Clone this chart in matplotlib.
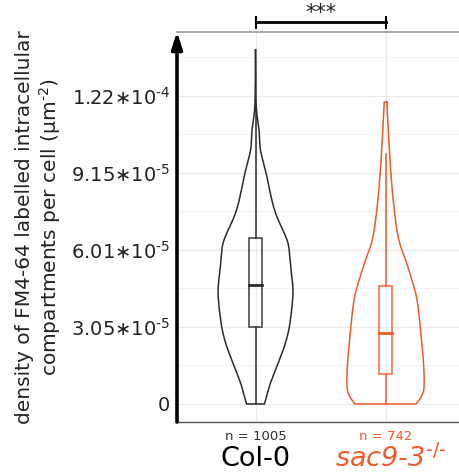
import numpy as np
import matplotlib
matplotlib.use("Agg")
import matplotlib.pyplot as plt

# groups
groups = ["Col-0", "sac9-3"]
counts = [1005, 742]
colors = ["#2b2b2b", "#F05A28"]

# violin outlines: density value (x1e-5) and half width (category units)
col0_y = [14.02, 11.84, 10.85, 10.06, 9.15, 7.68, 6.50, 5.90, 5.31, 4.40, 3.21, 2.50, 1.86, 0.83, 0.0]
col0_w = [0.0, 0.005, 0.027, 0.038, 0.081, 0.146, 0.242, 0.262, 0.273, 0.288, 0.265, 0.235, 0.192, 0.115, 0.069]
sac9_y = [11.96, 10.85, 9.15, 7.68, 6.50, 5.58, 4.63, 4.00, 2.93, 1.62, 0.67, 0.28, 0.0]
sac9_w = [0.010, 0.021, 0.041, 0.067, 0.102, 0.162, 0.219, 0.246, 0.269, 0.292, 0.296, 0.273, 0.235]

# box stats (x1e-5): whisker low, Q1, median, Q3, whisker high
col0_box = [0.0, 3.05, 4.71, 6.58, 11.84]
sac9_box = [0.0, 1.18, 2.80, 4.67, 9.90]

tick_vals = [0, 3.05, 6.10, 9.15, 12.20]
tick_labels = ["0", "3.05\u221710$^{\u20105}$", "6.01\u221710$^{\u20105}$",
               "9.15\u221710$^{\u20105}$", "1.22\u221710$^{\u20104}$"]


def smooth(px, py, n=12):
    # Catmull-Rom rendering of an outline through the read points
    px = np.asarray(px, float)
    py = np.asarray(py, float)
    P = np.column_stack([px, py])
    P = np.vstack([P[0], P, P[-1]])
    out = []
    t = np.linspace(0, 1, n, endpoint=False)[:, None]
    for k in range(1, len(P) - 2):
        p0, p1, p2, p3 = P[k - 1], P[k], P[k + 1], P[k + 2]
        seg = 0.5 * ((2 * p1) + (-p0 + p2) * t + (2 * p0 - 5 * p1 + 4 * p2 - p3) * t ** 2
                     + (-p0 + 3 * p1 - 3 * p2 + p3) * t ** 3)
        out.append(seg)
    out.append(P[-2][None, :])
    out = np.vstack(out)
    return out[:, 0], out[:, 1]


plt.rcParams["font.family"] = "DejaVu Sans"
plt.rcParams["mathtext.fontset"] = "dejavusans"
plt.rcParams["mathtext.default"] = "regular"

fig = plt.figure(figsize=(4.59, 4.76), dpi=100)
ax = fig.add_axes([177 / 459, 1 - 422 / 476, 1 - 177 / 459, (422 - 31.7) / 476])

scale = 1e-5
violins = [(col0_y, col0_w), (sac9_y, sac9_w)]
boxes = [col0_box, sac9_box]

for i, ((vy, vw), b, c) in enumerate(zip(violins, boxes, colors)):
    sw, sy = smooth(vw, vy)
    sy = sy * scale
    xs = np.concatenate([i + sw, (i - sw)[::-1], [i + sw[0]]])
    ys = np.concatenate([sy, sy[::-1], [sy[0]]])
    ax.plot(xs, ys, color=c, lw=1.1, zorder=3, solid_joinstyle="round")
    bw = 0.051
    lo, q1, med, q3, hi = [v * scale for v in b]
    ax.plot([i, i], [lo, q1], color=c, lw=1.1, zorder=3)
    ax.plot([i, i], [q3, hi], color=c, lw=1.1, zorder=3)
    ax.add_patch(plt.Rectangle((i - bw, q1), 2 * bw, q3 - q1, fill=False,
                               edgecolor=c, lw=1.2, alpha=0.85, zorder=3))
    ax.plot([i - bw, i + bw], [med, med], color=c, lw=2.0, zorder=4)

ax.set_xlim(-0.604, 1.565)
ax.set_ylim(-0.713e-5, 14.74e-5)

ax.set_yticks([v * scale for v in tick_vals])
ax.set_yticklabels(tick_labels, fontsize=14, color="#222222")
ax.set_yticks([(v + 1.525) * scale for v in tick_vals], minor=True)
ax.set_xticks([0, 1])
ax.set_xticklabels(["", ""])
ax.tick_params(axis="both", which="both", length=0, pad=5)

ax.grid(True, which="major", color="#ebebeb", lw=1.0)
ax.grid(True, which="minor", axis="y", color="#f3f3f3", lw=0.9)
ax.set_axisbelow(True)

for s in ["left", "right"]:
    ax.spines[s].set_visible(False)
ax.spines["top"].set_color("#9a9a9a")
ax.spines["top"].set_linewidth(1.2)
ax.spines["bottom"].set_color("#555555")
ax.spines["bottom"].set_linewidth(1.0)

# left axis with arrow
ax.annotate("", xy=(0, 1.0), xycoords="axes fraction", xytext=(0, 0),
            textcoords="axes fraction",
            arrowprops=dict(arrowstyle="-|>,head_length=1.0,head_width=0.32",
                            lw=2.6, color="black", shrinkA=0, shrinkB=0),
            annotation_clip=False)

# category labels
xt = ax.get_xaxis_transform()
for i, (n, c) in enumerate(zip(counts, colors)):
    ax.text(i, -0.037, "n = %d" % n, transform=xt, ha="center", va="center",
            fontsize=9.5, color="#333333" if i == 0 else c)
ax.text(0, -0.094, "Col-0", transform=xt, ha="center", va="center",
        fontsize=19.5, color="black")
ax.text(1.04, -0.094, "sac9-3$^{\\mathit{\u2010/\u2010}}$", transform=xt,
        ha="center", va="center", fontsize=19.5, color=colors[1], style="italic")

# y label
fig.text(25 / 459, 1 - 227 / 476, "density of FM4-64 labelled intracellular",
         rotation=90, ha="center", va="center", fontsize=14.5, color="#222222")
fig.text(50 / 459, 1 - 227 / 476, "compartments per cell (\u00b5m$^{\u20102}$)",
         rotation=90, ha="center", va="center", fontsize=14.5, color="#222222")

# significance bar
bar_y = 1 - 22 / 476
x0 = fig.transFigure.inverted().transform(ax.transData.transform((0, 0)))[0]
x1 = fig.transFigure.inverted().transform(ax.transData.transform((1, 0)))[0]
fig.add_artist(plt.Line2D([x0, x1], [bar_y, bar_y], color="black", lw=2.0))
for xx in [x0, x1]:
    fig.add_artist(plt.Line2D([xx, xx], [1 - 16.5 / 476, 1 - 28 / 476], color="black", lw=1.5))
fig.text((x0 + x1) / 2, 1 - 13 / 476, "***", ha="center", va="center", fontsize=15, color="#222222")

fig.savefig("out.png", dpi=100)
